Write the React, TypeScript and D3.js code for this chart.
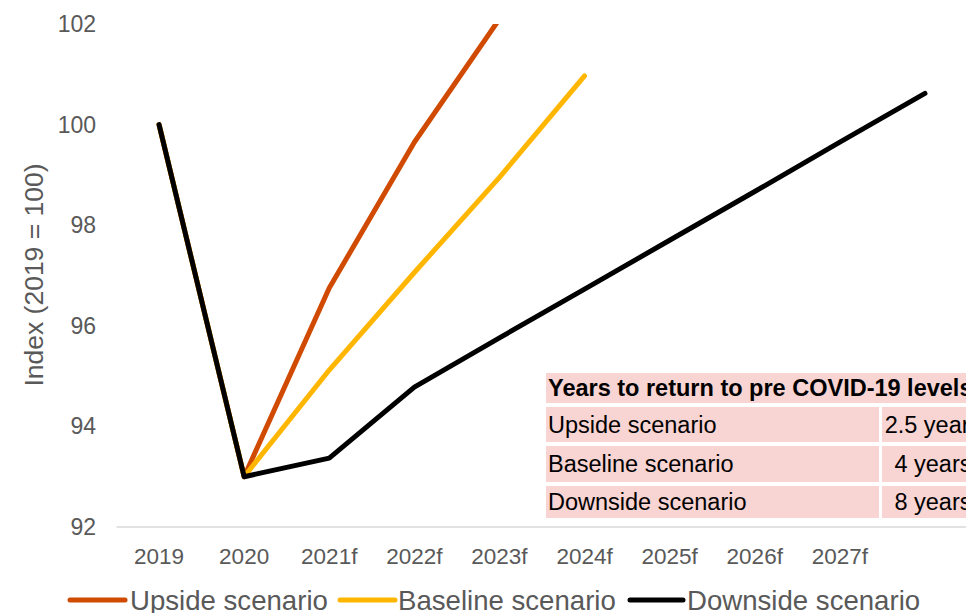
import React from "react";
import * as d3 from "d3";

const categories = ["2019", "2020", "2021f", "2022f", "2023f", "2024f", "2025f", "2026f", "2027f", ""];
const upside: (number | null)[] = [100, 93.0, 96.75, 99.65, 102.1, null, null, null, null, null];
const baseline: (number | null)[] = [100, 93.0, 95.12, 97.06, 98.95, 100.97, null, null, null, null];
const downside: (number | null)[] = [100, 93.0, 93.37, 94.78, 95.76, 96.73, 97.7, 98.67, 99.65, 100.62];
const yTicks = [92, 94, 96, 98, 100, 102];
const seriesNames = ["Upside scenario", "Baseline scenario", "Downside scenario"];
const seriesColors = ["#D04A02", "#FFB600", "#000000"];
const tableHeader = "Years to return to pre COVID-19 levels";
const tableRows = ["Upside scenario", "Baseline scenario", "Downside scenario"];
const tableValues = ["2.5 years", "4 years", "8 years"];

const W = 966;
const H = 613;

export default function App() {
  const x = d3.scalePoint<string>().domain(categories).range([116.5, 967.5]).padding(0.5);
  const y = d3.scaleLinear().domain([92, 102]).range([527, 24]);
  const series = [upside, baseline, downside];
  const line = d3
    .line<number | null>()
    .defined((d) => d !== null)
    .x((_, i) => x(categories[i]) as number)
    .y((d) => y(d as number));

  const font = "Arial, 'Liberation Sans', sans-serif";
  const gray = "#595959";
  const pink = "#F8D4D2";

  const tx0 = 546;
  const tcol = 881;
  const tx1 = 990;
  const rowsY = [
    [373, 403],
    [407, 442],
    [446, 482],
    [486, 518],
  ];

  const legendItems = [
    { x1: 70, x2: 125, tx: 130 },
    { x1: 340, x2: 395, tx: 398 },
    { x1: 630, x2: 683, tx: 687 },
  ];

  return (
    <svg width={W} height={H} style={{ position: "absolute", left: 0, top: 0, background: "#fff" }} fontFamily={font}>
      <defs>
        <clipPath id="plotclip">
          <rect x={100} y={y(102)} width={880} height={y(92) - y(102) + 10} />
        </clipPath>
      </defs>
      {yTicks.map((t) => (
        <text key={t} x={96} y={y(t) + 8} textAnchor="end" fontSize={23} fill={gray}>
          {t}
        </text>
      ))}
      <text transform={`translate(43, 275) rotate(-90)`} textAnchor="middle" fontSize={26.5} fill={gray}>
        Index (2019 = 100)
      </text>
      <g>
        <rect x={tx0} y={rowsY[0][0]} width={tx1 - tx0} height={rowsY[0][1] - rowsY[0][0]} fill={pink} />
        <text x={548} y={(rowsY[0][0] + rowsY[0][1]) / 2 + 8} fontSize={23.5} fontWeight="bold" fill="#000">
          {tableHeader}
        </text>
        {tableRows.map((r, i) => {
          const [a, b] = rowsY[i + 1];
          return (
            <g key={r}>
              <rect x={tx0} y={a} width={tcol - 2 - tx0} height={b - a} fill={pink} />
              <rect x={tcol + 1} y={a} width={tx1 - tcol} height={b - a} fill={pink} />
              <text x={548} y={(a + b) / 2 + 8} fontSize={23.5} fill="#000">
                {r}
              </text>
              <text x={933} y={(a + b) / 2 + 8} fontSize={23.5} fill="#000" textAnchor="middle">
                {tableValues[i]}
              </text>
            </g>
          );
        })}
      </g>
      <line x1={116.5} x2={967.5} y1={y(92)} y2={y(92)} stroke="#D9D9D9" strokeWidth={1.5} />
      {categories.map((c) => (
        <text key={c + "_"} x={x(c) as number} y={564} textAnchor="middle" fontSize={22.5} fill={gray}>
          {c}
        </text>
      ))}
      <g clipPath="url(#plotclip)">
        {series.map((s, i) => (
          <path
            key={i}
            d={line(s) || ""}
            fill="none"
            stroke={seriesColors[i]}
            strokeWidth={5}
            strokeLinecap="round"
            strokeLinejoin="round"
          />
        ))}
      </g>
      {legendItems.map((l, i) => (
        <g key={i}>
          <line x1={l.x1} x2={l.x2} y1={600} y2={600} stroke={seriesColors[i]} strokeWidth={5} strokeLinecap="round" />
          <text x={l.tx} y={610} fontSize={27.6} fill={gray}>
            {seriesNames[i]}
          </text>
        </g>
      ))}
    </svg>
  );
}
